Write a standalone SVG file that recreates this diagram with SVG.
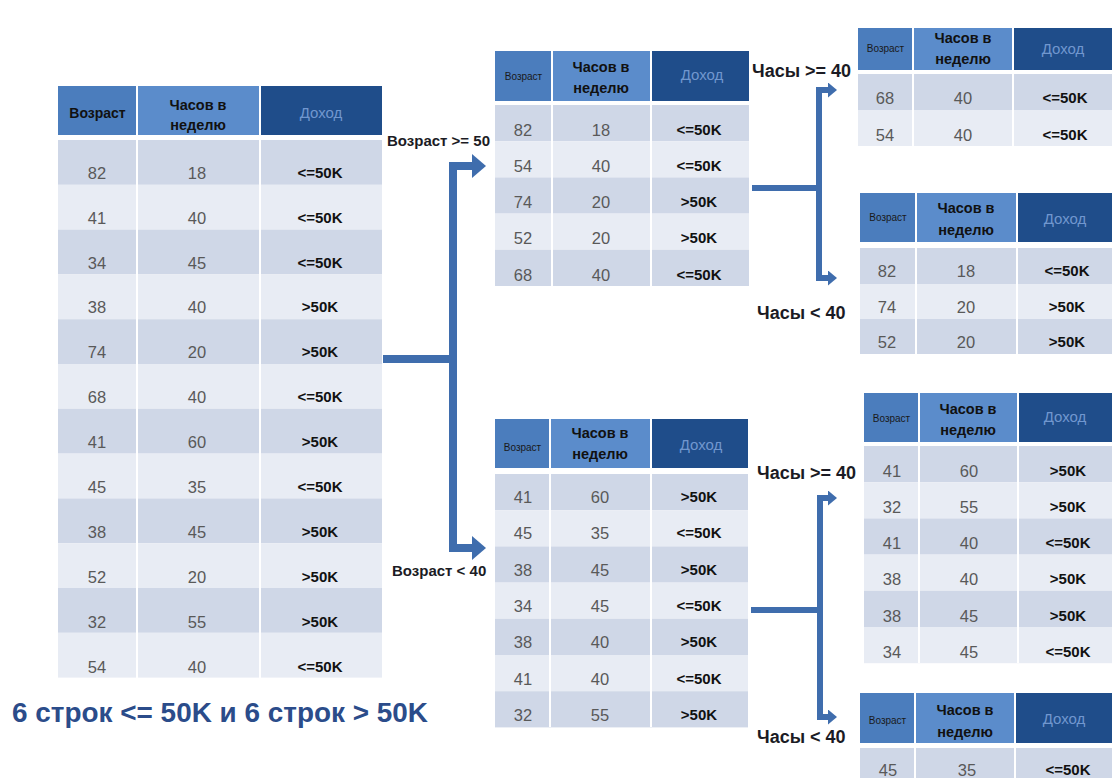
<svg xmlns="http://www.w3.org/2000/svg" width="1112" height="778" viewBox="0 0 1112 778">
<style>
.bg{fill:#ffffff}
.h1{fill:#4b7dbd}
.h2{fill:#5b8ccb}
.h3{fill:#1f4d8a}
.rd{fill:#cfd7e7}
.rl{fill:#e8ecf4}
.sep{stroke:#ffffff;stroke-width:2}
text{font-family:"Liberation Sans","Noto Sans",Arial,sans-serif}
.hA{font-size:14px;font-weight:bold;fill:#111111;text-anchor:middle}
.hAs{font-size:10px;fill:#1a1a1a;text-anchor:middle}
.hB{font-size:14.5px;font-weight:bold;fill:#111111;text-anchor:middle}
.hC{font-size:15px;fill:#7197cf;text-anchor:middle}
.n{font-size:16.5px;fill:#595959;text-anchor:middle}
.v{font-size:15px;font-weight:bold;fill:#111111;text-anchor:middle}
.lbl{font-size:15px;font-weight:bold;fill:#1b1b24}
.lbl2{font-size:18px;font-weight:bold;fill:#1b1b24}
.sum{font-size:27px;font-weight:bold;fill:#2b4c8a}
.con{fill:none;stroke:#3f6dad;stroke-linejoin:miter}
.c1{stroke-width:8}
.c2{stroke-width:6}
</style>
<defs>
<marker id="ahBig" markerUnits="userSpaceOnUse" markerWidth="14" markerHeight="24" viewBox="0 0 14 24" refX="0" refY="12" orient="auto">
<path d="M0,0 L14,12 L0,24 Z" fill="#3f6dad"/>
</marker>
<marker id="ahSmall" markerUnits="userSpaceOnUse" markerWidth="9" markerHeight="15" viewBox="0 0 9 15" refX="0" refY="7.5" orient="auto">
<path d="M0,0 L9,7.5 L0,15 Z" fill="#3f6dad"/>
</marker>
</defs>
<rect class="bg" x="0" y="0" width="1112" height="778"/>

<g id="connectors">
<path class="con c1" d="M383,359 H453"/>
<path class="con c1" d="M453,362 V166 H472" marker-end="url(#ahBig)"/>
<path class="con c1" d="M453,356 V548 H472" marker-end="url(#ahBig)"/>
<path class="con c2" d="M752,188 H819"/>
<path class="con c2" d="M819,190 V90 H828" marker-end="url(#ahSmall)"/>
<path class="con c2" d="M819,186 V278 H828" marker-end="url(#ahSmall)"/>
<path class="con c2" d="M751,610 H820"/>
<path class="con c2" d="M820,612 V498 H828" marker-end="url(#ahSmall)"/>
<path class="con c2" d="M820,608 V717 H828" marker-end="url(#ahSmall)"/>
</g>

<g id="labels">
<text class="lbl" x="387" y="146">Возраст &gt;= 50</text>
<text class="lbl" x="392" y="576">Возраст &lt; 40</text>
<text class="lbl2" x="752" y="77">Часы &gt;= 40</text>
<text class="lbl2" x="757" y="319">Часы &lt; 40</text>
<text class="lbl2" x="757" y="479">Часы &gt;= 40</text>
<text class="lbl2" x="757" y="743">Часы &lt; 40</text>
</g>

<g id="t0">
<rect class="h1" x="58" y="86" width="79" height="49"/>
<rect class="h2" x="137" y="86" width="123" height="49"/>
<rect class="h3" x="260" y="86" width="122" height="49"/>
<rect class="rd" x="58" y="140" width="324" height="44.8"/>
<rect class="rl" x="58" y="184.8" width="324" height="44.8"/>
<rect class="rd" x="58" y="229.6" width="324" height="44.8"/>
<rect class="rl" x="58" y="274.4" width="324" height="44.8"/>
<rect class="rd" x="58" y="319.2" width="324" height="44.8"/>
<rect class="rl" x="58" y="364" width="324" height="44.8"/>
<rect class="rd" x="58" y="408.8" width="324" height="44.8"/>
<rect class="rl" x="58" y="453.6" width="324" height="44.8"/>
<rect class="rd" x="58" y="498.4" width="324" height="44.8"/>
<rect class="rl" x="58" y="543.2" width="324" height="44.8"/>
<rect class="rd" x="58" y="588" width="324" height="44.8"/>
<rect class="rl" x="58" y="632.8" width="324" height="44.8"/>
<line class="sep" x1="137" y1="86" x2="137" y2="678"/>
<line class="sep" x1="260" y1="86" x2="260" y2="678"/>
<text class="hA" x="97.5" y="118">Возраст</text>
<text class="hB" x="198" y="110">Часов в</text>
<text class="hB" x="198" y="130">неделю</text>
<text class="hC" x="321" y="118">Доход</text>
<text class="n" x="97" y="179">82</text><text class="n" x="197" y="179">18</text><text class="v" x="320" y="178">&lt;=50K</text>
<text class="n" x="97" y="224">41</text><text class="n" x="197" y="224">40</text><text class="v" x="320" y="223">&lt;=50K</text>
<text class="n" x="97" y="269">34</text><text class="n" x="197" y="269">45</text><text class="v" x="320" y="268">&lt;=50K</text>
<text class="n" x="97" y="313">38</text><text class="n" x="197" y="313">40</text><text class="v" x="320" y="312">&gt;50K</text>
<text class="n" x="97" y="358">74</text><text class="n" x="197" y="358">20</text><text class="v" x="320" y="357">&gt;50K</text>
<text class="n" x="97" y="403">68</text><text class="n" x="197" y="403">40</text><text class="v" x="320" y="402">&lt;=50K</text>
<text class="n" x="97" y="448">41</text><text class="n" x="197" y="448">60</text><text class="v" x="320" y="447">&gt;50K</text>
<text class="n" x="97" y="493">45</text><text class="n" x="197" y="493">35</text><text class="v" x="320" y="492">&lt;=50K</text>
<text class="n" x="97" y="538">38</text><text class="n" x="197" y="538">45</text><text class="v" x="320" y="537">&gt;50K</text>
<text class="n" x="97" y="583">52</text><text class="n" x="197" y="583">20</text><text class="v" x="320" y="582">&gt;50K</text>
<text class="n" x="97" y="628">32</text><text class="n" x="197" y="628">55</text><text class="v" x="320" y="627">&gt;50K</text>
<text class="n" x="97" y="673">54</text><text class="n" x="197" y="673">40</text><text class="v" x="320" y="672">&lt;=50K</text>
</g>

<g id="t1">
<rect class="h1" x="495" y="51" width="57" height="50"/>
<rect class="h2" x="552" y="51" width="99" height="50"/>
<rect class="h3" x="651" y="51" width="98" height="50"/>
<rect class="rd" x="495" y="105" width="254" height="36.2"/>
<rect class="rl" x="495" y="141.2" width="254" height="36.2"/>
<rect class="rd" x="495" y="177.4" width="254" height="36.2"/>
<rect class="rl" x="495" y="213.6" width="254" height="36.2"/>
<rect class="rd" x="495" y="249.8" width="254" height="36.2"/>
<line class="sep" x1="552" y1="51" x2="552" y2="286"/>
<line class="sep" x1="651" y1="51" x2="651" y2="286"/>
<text class="hAs" x="523.5" y="80">Возраст</text>
<text class="hB" x="601" y="72">Часов в</text>
<text class="hB" x="601" y="93">неделю</text>
<text class="hC" x="702" y="80">Доход</text>
<text class="n" x="523" y="136">82</text><text class="n" x="601" y="136">18</text><text class="v" x="699" y="135">&lt;=50K</text>
<text class="n" x="523" y="172">54</text><text class="n" x="601" y="172">40</text><text class="v" x="699" y="171">&lt;=50K</text>
<text class="n" x="523" y="208">74</text><text class="n" x="601" y="208">20</text><text class="v" x="699" y="207">&gt;50K</text>
<text class="n" x="523" y="244">52</text><text class="n" x="601" y="244">20</text><text class="v" x="699" y="243">&gt;50K</text>
<text class="n" x="523" y="281">68</text><text class="n" x="601" y="281">40</text><text class="v" x="699" y="280">&lt;=50K</text>
</g>

<g id="t2">
<rect class="h1" x="495" y="419" width="55" height="49"/>
<rect class="h2" x="550" y="419" width="101" height="49"/>
<rect class="h3" x="651" y="419" width="97" height="49"/>
<rect class="rd" x="495" y="474" width="253" height="36.2"/>
<rect class="rl" x="495" y="510.2" width="253" height="36.2"/>
<rect class="rd" x="495" y="546.4" width="253" height="36.2"/>
<rect class="rl" x="495" y="582.6" width="253" height="36.2"/>
<rect class="rd" x="495" y="618.8" width="253" height="36.2"/>
<rect class="rl" x="495" y="655" width="253" height="36.2"/>
<rect class="rd" x="495" y="691.2" width="253" height="36.2"/>
<line class="sep" x1="550" y1="419" x2="550" y2="727"/>
<line class="sep" x1="651" y1="419" x2="651" y2="727"/>
<text class="hAs" x="522.5" y="451">Возраст</text>
<text class="hB" x="600" y="438">Часов в</text>
<text class="hB" x="600" y="459">неделю</text>
<text class="hC" x="701" y="450">Доход</text>
<text class="n" x="523" y="503">41</text><text class="n" x="600" y="503">60</text><text class="v" x="699" y="502">&gt;50K</text>
<text class="n" x="523" y="539">45</text><text class="n" x="600" y="539">35</text><text class="v" x="699" y="538">&lt;=50K</text>
<text class="n" x="523" y="576">38</text><text class="n" x="600" y="576">45</text><text class="v" x="699" y="575">&gt;50K</text>
<text class="n" x="523" y="612">34</text><text class="n" x="600" y="612">45</text><text class="v" x="699" y="611">&lt;=50K</text>
<text class="n" x="523" y="648">38</text><text class="n" x="600" y="648">40</text><text class="v" x="699" y="647">&gt;50K</text>
<text class="n" x="523" y="685">41</text><text class="n" x="600" y="685">40</text><text class="v" x="699" y="684">&lt;=50K</text>
<text class="n" x="523" y="721">32</text><text class="n" x="600" y="721">55</text><text class="v" x="699" y="720">&gt;50K</text>
</g>

<g id="t3">
<rect class="h1" x="858" y="28" width="55" height="42"/>
<rect class="h2" x="913" y="28" width="100" height="42"/>
<rect class="h3" x="1013" y="28" width="99" height="42"/>
<rect class="rd" x="858" y="74" width="254" height="36"/>
<rect class="rl" x="858" y="110" width="254" height="36"/>
<line class="sep" x1="913" y1="28" x2="913" y2="146"/>
<line class="sep" x1="1013" y1="28" x2="1013" y2="146"/>
<text class="hAs" x="885.5" y="52">Возраст</text>
<text class="hB" x="963" y="43">Часов в</text>
<text class="hB" x="963" y="64">неделю</text>
<text class="hC" x="1063" y="54">Доход</text>
<text class="n" x="885" y="104">68</text><text class="n" x="963" y="104">40</text><text class="v" x="1065" y="103">&lt;=50K</text>
<text class="n" x="885" y="141">54</text><text class="n" x="963" y="141">40</text><text class="v" x="1065" y="140">&lt;=50K</text>
</g>

<g id="t4">
<rect class="h1" x="860" y="193" width="56" height="49"/>
<rect class="h2" x="916" y="193" width="101" height="49"/>
<rect class="h3" x="1017" y="193" width="95" height="49"/>
<rect class="rd" x="860" y="248" width="252" height="36"/>
<rect class="rl" x="860" y="284" width="252" height="35"/>
<rect class="rd" x="860" y="319" width="252" height="35"/>
<line class="sep" x1="916" y1="193" x2="916" y2="354"/>
<line class="sep" x1="1017" y1="193" x2="1017" y2="354"/>
<text class="hAs" x="888" y="221">Возраст</text>
<text class="hB" x="966" y="213">Часов в</text>
<text class="hB" x="966" y="235">неделю</text>
<text class="hC" x="1065" y="224">Доход</text>
<text class="n" x="887" y="277">82</text><text class="n" x="966" y="277">18</text><text class="v" x="1067" y="276">&lt;=50K</text>
<text class="n" x="887" y="313">74</text><text class="n" x="966" y="313">20</text><text class="v" x="1067" y="312">&gt;50K</text>
<text class="n" x="887" y="348">52</text><text class="n" x="966" y="348">20</text><text class="v" x="1067" y="347">&gt;50K</text>
</g>

<g id="t5">
<rect class="h1" x="864" y="393" width="55" height="49"/>
<rect class="h2" x="919" y="393" width="99" height="49"/>
<rect class="h3" x="1018" y="393" width="94" height="49"/>
<rect class="rd" x="864" y="446" width="248" height="36.2"/>
<rect class="rl" x="864" y="482.2" width="248" height="36.2"/>
<rect class="rd" x="864" y="518.4" width="248" height="36.2"/>
<rect class="rl" x="864" y="554.6" width="248" height="36.2"/>
<rect class="rd" x="864" y="590.8" width="248" height="36.2"/>
<rect class="rl" x="864" y="627" width="248" height="36.2"/>
<line class="sep" x1="919" y1="393" x2="919" y2="663"/>
<line class="sep" x1="1018" y1="393" x2="1018" y2="663"/>
<text class="hAs" x="891.5" y="422">Возраст</text>
<text class="hB" x="968" y="414">Часов в</text>
<text class="hB" x="968" y="435">неделю</text>
<text class="hC" x="1065" y="422">Доход</text>
<text class="n" x="892" y="477">41</text><text class="n" x="969" y="477">60</text><text class="v" x="1068" y="476">&gt;50K</text>
<text class="n" x="892" y="513">32</text><text class="n" x="969" y="513">55</text><text class="v" x="1068" y="512">&gt;50K</text>
<text class="n" x="892" y="549">41</text><text class="n" x="969" y="549">40</text><text class="v" x="1068" y="548">&lt;=50K</text>
<text class="n" x="892" y="585">38</text><text class="n" x="969" y="585">40</text><text class="v" x="1068" y="584">&gt;50K</text>
<text class="n" x="892" y="622">38</text><text class="n" x="969" y="622">45</text><text class="v" x="1068" y="621">&gt;50K</text>
<text class="n" x="892" y="658">34</text><text class="n" x="969" y="658">45</text><text class="v" x="1068" y="657">&lt;=50K</text>
</g>

<g id="t6">
<rect class="h1" x="860" y="693" width="55" height="50"/>
<rect class="h2" x="915" y="693" width="100" height="50"/>
<rect class="h3" x="1015" y="693" width="97" height="50"/>
<rect class="rd" x="860" y="748" width="252" height="30"/>
<line class="sep" x1="915" y1="693" x2="915" y2="778"/>
<line class="sep" x1="1015" y1="693" x2="1015" y2="778"/>
<text class="hAs" x="887.5" y="724">Возраст</text>
<text class="hB" x="965" y="715">Часов в</text>
<text class="hB" x="965" y="737">неделю</text>
<text class="hC" x="1064" y="724">Доход</text>
<text class="n" x="888" y="776">45</text><text class="n" x="967" y="776">35</text><text class="v" x="1068" y="775">&lt;=50K</text>
</g>

<g id="summary">
<text class="sum" x="12" y="722" textLength="416" lengthAdjust="spacingAndGlyphs">6 строк &lt;= 50K и 6 строк &gt; 50K</text>
</g>
</svg>
